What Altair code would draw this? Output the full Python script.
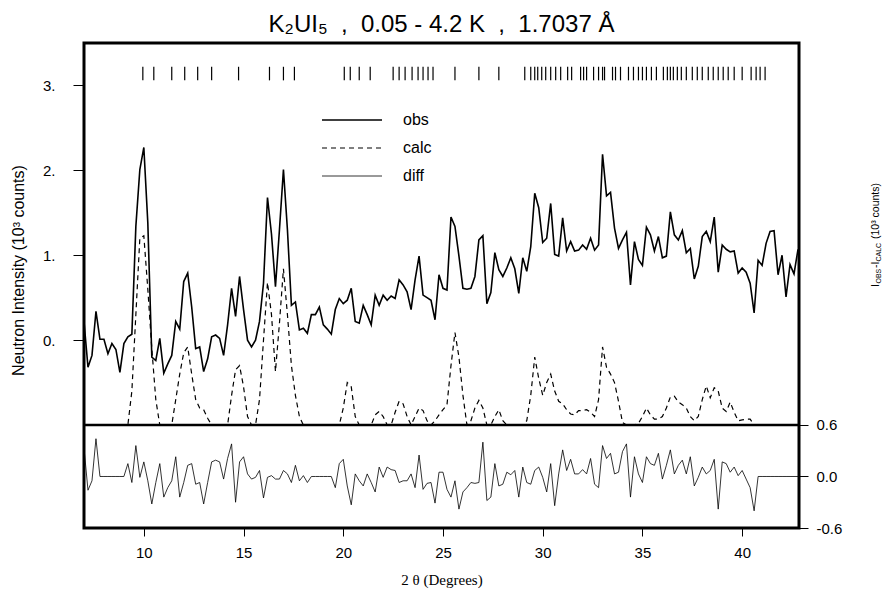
import altair as alt
import numpy as np
import pandas as pd

# 2-theta sampling grid (degrees), 0.2 deg steps from 7.0 to 42.8
two_theta = np.round(7.0 + 0.2 * np.arange(180), 1)

obs = [
    0.22, -0.32, -0.18, 0.34, 0.01, 0.01, -0.16, -0.04, -0.11, -0.38,
    -0.04, 0.04, 0.07, 1.34, 2.01, 2.27, 1.38, -0.20, -0.24, 0.02,
    -0.39, -0.28, -0.18, 0.22, 0.13, 0.69, 0.79, 0.39, -0.10, -0.08,
    -0.37, -0.22, 0.04, 0.06, 0.02, -0.18, 0.18, 0.61, 0.28, 0.75,
    0.36, 0.00, -0.08, 0.00, 0.22, 0.67, 1.68, 1.25, 0.63, 1.30,
    2.01, 1.30, 0.41, 0.45, 0.12, 0.14, 0.08, 0.30, 0.30, 0.39,
    0.18, 0.13, 0.07, 0.36, 0.49, 0.43, 0.47, 0.61, 0.22, 0.20,
    0.41, 0.30, 0.18, 0.53, 0.41, 0.53, 0.47, 0.52, 0.49, 0.71,
    0.65, 0.57, 0.36, 0.71, 0.99, 0.53, 0.50, 0.47, 0.24, 0.77,
    0.61, 0.59, 1.45, 1.34, 0.99, 0.61, 0.60, 0.61, 0.75, 1.18,
    1.23, 0.43, 0.56, 1.03, 0.83, 0.75, 0.85, 0.97, 0.84, 0.55,
    0.97, 0.81, 1.10, 1.73, 1.56, 1.15, 1.20, 1.61, 1.01, 0.99,
    1.44, 1.05, 1.16, 1.05, 1.06, 1.12, 1.07, 1.20, 1.06, 1.12,
    2.19, 1.70, 1.74, 1.32, 1.08, 1.18, 1.27, 0.65, 1.16, 0.95,
    0.88, 1.33, 1.24, 1.05, 1.22, 0.97, 0.99, 1.51, 1.24, 1.18,
    1.29, 1.03, 1.08, 0.72, 0.87, 1.22, 1.28, 1.16, 1.45, 0.80,
    1.12, 1.07, 1.04, 1.05, 0.79, 0.85, 0.80, 0.67, 0.32, 0.94,
    0.88, 1.14, 1.28, 1.29, 0.77, 1.00, 0.51, 0.89, 0.78, 1.07,
]

# calculated profile, height above its own baseline (drawn 1 unit below zero)
calc = [
    0, 0, 0, 0, 0, 0, 0, 0, 0, 0,
    0, 0, 0.4, 1.3, 2.2, 2.23, 1.6, 0.9, 0.3, 0,
    0, 0, 0, 0.3, 0.6, 0.85, 0.92, 0.6, 0.3, 0.2,
    0.18, 0.08, 0, 0, 0, 0, 0, 0.35, 0.65, 0.7,
    0.45, 0.1, 0, 0, 0.3, 1.0, 1.68, 1.3, 0.63, 1.2,
    1.84, 1.3, 0.7, 0.35, 0.1, 0, 0, 0, 0, 0,
    0, 0, 0, 0, 0, 0.2, 0.5, 0.45, 0.1, 0,
    0, 0, 0, 0.12, 0.16, 0.1, 0, 0, 0.15, 0.28,
    0.25, 0.1, 0, 0.1, 0.2, 0.17, 0.05, 0, 0.05, 0.12,
    0.18, 0.24, 0.7, 1.09, 0.8, 0.35, 0, 0.05, 0.2, 0.29,
    0.2, 0, 0, 0.1, 0.18, 0.05, 0, 0, 0, 0,
    0, 0.05, 0.35, 0.8, 0.55, 0.35, 0.5, 0.6, 0.4, 0.28,
    0.25, 0.18, 0.13, 0.12, 0.17, 0.17, 0.18, 0.15, 0.1, 0.3,
    0.92, 0.68, 0.6, 0.5, 0.28, 0.03, 0, 0, 0, 0.02,
    0.1, 0.2, 0.12, 0.07, 0.07, 0.1, 0.2, 0.33, 0.34, 0.27,
    0.24, 0.2, 0.1, 0.05, 0.1, 0.3, 0.46, 0.32, 0.44, 0.4,
    0.2, 0.16, 0.27, 0.15, 0.05, 0.06, 0.07, 0.07, 0, 0,
    0, 0, 0, 0, 0, 0, 0, 0, 0, 0,
]

diff = [
    0.33, -0.16, -0.05, 0.44, 0, 0, 0, 0, 0, 0,
    0, 0.15, -0.07, 0.36, -0.01, 0.17, -0.05, -0.32, -0.07, 0.15,
    -0.24, -0.13, -0.05, 0.23, -0.24, -0.07, 0.13, 0.15, -0.09, -0.07,
    -0.32, -0.07, 0.17, 0.19, 0.17, -0.03, 0.21, 0.38, -0.30, 0.17,
    0.23, 0.03, -0.03, -0.01, 0.07, -0.25, -0.01, 0.01, -0.03, -0.03,
    0.07, 0.03, -0.07, 0.13, -0.05, 0.01, -0.07, 0, 0, 0,
    0, 0, 0, -0.13, 0.15, 0.20, -0.11, -0.33, 0.03, -0.05,
    -0.11, 0.03, -0.07, -0.18, 0.11, -0.01, 0.11, 0.08, 0.07, -0.07,
    -0.05, -0.05, 0.03, -0.13, 0.25, -0.15, -0.08, -0.07, -0.31, 0.05,
    0.05, -0.15, -0.24, -0.05, -0.38, -0.18, -0.13, -0.07, -0.08, -0.07,
    0.40, -0.28, -0.24, 0.15, -0.11, -0.09, 0.05, 0.02, 0.07, -0.24,
    0.11, -0.07, -0.09, 0.07, 0.11, -0.01, -0.18, 0.15, -0.34, 0.03,
    0.31, 0.07, 0.20, 0.03, 0.03, 0.08, 0.03, 0.21, -0.09, -0.13,
    0.36, 0.21, 0.27, 0.03, 0.05, 0.29, 0.38, -0.24, 0.23, 0.03,
    -0.07, 0.23, 0.15, 0.13, 0.27, -0.03, 0.13, 0.31, 0.03, 0.13,
    0.19, 0.03, 0.23, -0.11, -0.01, 0.11, 0.03, 0.07, 0.20, -0.38,
    0.17, 0.15, 0.05, 0.11, 0.01, 0.07, -0.03, -0.13, -0.40, 0,
    0, 0, 0, 0, 0, 0, 0, 0, 0, 0,
]

# Bragg reflection positions (degrees 2-theta)
reflections = [
    9.95, 10.5, 11.4, 12.05, 12.7, 13.4, 14.75, 16.3, 17.0, 17.55,
    20.05, 20.35, 20.8, 21.35, 22.5, 22.8, 23.1, 23.45, 23.75, 24.0,
    24.25, 24.5, 25.6, 26.8, 27.8, 29.1, 29.4, 29.6, 29.75, 29.95,
    30.15, 30.4, 30.65, 30.9, 31.25, 31.45, 31.9, 32.05, 32.2, 32.55,
    32.8, 33.0, 33.1, 33.5, 33.65, 33.9, 34.3, 34.55, 34.8, 35.0,
    35.2, 35.45, 35.7, 36.05, 36.25, 36.4, 36.55, 36.75, 36.95, 37.2,
    37.5, 37.75, 38.0, 38.3, 38.55, 38.8, 39.05, 39.3, 39.6, 40.0,
    40.45, 40.7, 40.9, 41.15,
]

df = pd.DataFrame({"tt": two_theta, "obs": obs, "calc": calc, "diff": diff})
refl_df = pd.DataFrame({"pos": reflections})
one = pd.DataFrame({"k": [0]})

FONT = "Liberation Sans"
W, H = 715, 485
NB = "\u00a0"

x_scale = alt.Scale(domain=[7.0, 42.85], nice=False, zero=False)
left_scale = alt.Scale(domain=[-2.213, 3.5], nice=False, zero=False)
right_scale = alt.Scale(domain=[-0.6, 5.05], nice=False, zero=False)

x_axis = alt.Axis(
    values=[10, 15, 20, 25, 30, 35, 40], format="d", tickSize=8, tickWidth=1,
    tickColor="black", labelPadding=9, labelFontSize=15, labelFont=FONT,
    labelColor="black", domain=False, grid=False,
    title="2 θ (Degrees)", titleFont="Liberation Serif", titleFontSize=15,
    titleFontWeight="normal", titleColor="black", titlePadding=12,
)
left_axis = alt.Axis(
    values=[0, 1, 2, 3], labelExpr="format(datum.value, 'd') + '.'",
    tickSize=11, tickWidth=1, tickColor="black", labelPadding=18,
    labelFontSize=15, labelFont=FONT, labelColor="black", domain=False,
    grid=False, title="Neutron Intensity (10³ counts)", titleFont=FONT,
    titleFontSize=16, titleFontWeight="normal", titleColor="black",
    titleX=-66, titleY=227, titleBaseline="middle", titleAngle=270,
)
right_axis = alt.Axis(
    orient="right", values=[-0.6, 0.0, 0.6],
    labelExpr="datum.value < 0 ? '-' + format(-datum.value, '.1f') : format(datum.value, '.1f')",
    tickSize=9, tickWidth=1, tickColor="black", labelPadding=8,
    labelFontSize=15, labelFont=FONT, labelColor="black", domain=False,
    grid=False, title=None,
)

X = alt.X("tt:Q", scale=x_scale, axis=x_axis)

obs_line = alt.Chart(df).mark_line(color="black", strokeWidth=1.6).encode(
    x=X, y=alt.Y("obs:Q", scale=left_scale, axis=left_axis)
)
calc_line = (
    alt.Chart(df)
    .transform_calculate(calc_plot="datum.calc - 1")
    .mark_line(color="black", strokeWidth=1.2, strokeDash=[5, 4])
    .encode(x=X, y=alt.Y("calc_plot:Q", scale=left_scale, axis=left_axis))
)
refl_ticks = alt.Chart(refl_df).mark_rule(color="black", strokeWidth=1.2).encode(
    x=alt.X("pos:Q", scale=x_scale, axis=x_axis),
    y=alt.datum(3.06, scale=left_scale, axis=left_axis),
    y2=alt.datum(3.22),
)
divider = alt.Chart(one).mark_rule(color="black", strokeWidth=2.5).encode(
    y=alt.datum(-1.0, scale=left_scale, axis=left_axis)
)

# hand-drawn legend
leg_lines = [
    alt.Chart(one).mark_rule(color="black", strokeWidth=1.6).encode(
        x=alt.value(238), x2=alt.value(298), y=alt.value(77)),
    alt.Chart(one).mark_rule(color="black", strokeWidth=1.2, strokeDash=[5, 4]).encode(
        x=alt.value(238), x2=alt.value(298), y=alt.value(105)),
    alt.Chart(one).mark_rule(color="black", strokeWidth=0.8).encode(
        x=alt.value(238), x2=alt.value(298), y=alt.value(133)),
]
leg_text = [
    alt.Chart(one).mark_text(align="left", baseline="middle", fontSize=16, font=FONT,
                             color="black").encode(
        x=alt.value(319), y=alt.value(yy), text=alt.value(t))
    for t, yy in [("obs", 77), ("calc", 105), ("diff", 133)]
]

# right-hand axis title  I_OBS - I_CALC (10^3 counts), rotated, reading upward
RX = 792
pieces = [
    ("I", 10.5, 0, 244),
    ("OBS", 7, 3, 240.5),
    ("-I", 10.5, 0, 225),
    ("CALC", 7, 3, 218.5),
    ("(10³ counts)", 10.5, 0, 196),
]
right_title = [
    alt.Chart(one).mark_text(angle=270, align="left", baseline="middle", fontSize=fs,
                             font=FONT, color="black").encode(
        x=alt.value(RX + dx), y=alt.value(yy), text=alt.value(t))
    for t, fs, dx, yy in pieces
]

left_layer = alt.layer(obs_line, calc_line, refl_ticks, divider, *leg_lines, *leg_text,
                       *right_title)

diff_line = alt.Chart(df).mark_line(color="black", strokeWidth=0.8).encode(
    x=X, y=alt.Y("diff:Q", scale=right_scale, axis=right_axis)
)

title_text = f"K₂UI₅ {NB},{NB} 0.05 - 4.2 K {NB},{NB} 1.7037 Å"

chart = (
    alt.layer(left_layer, diff_line)
    .resolve_scale(y="independent")
    .properties(
        width=W, height=H,
        autosize=alt.AutoSizeParams(type="none"),
        padding={"left": 76, "top": 35, "right": 83, "bottom": 62},
        title=alt.Title(title_text, fontSize=24, font=FONT,
                        fontWeight="normal", color="black", anchor="middle", offset=6),
    )
    .configure(background="white", view=alt.ViewConfig(stroke="black", strokeWidth=3))
)

chart.save("out.html", embed_options={"renderer": "svg", "actions": False})
